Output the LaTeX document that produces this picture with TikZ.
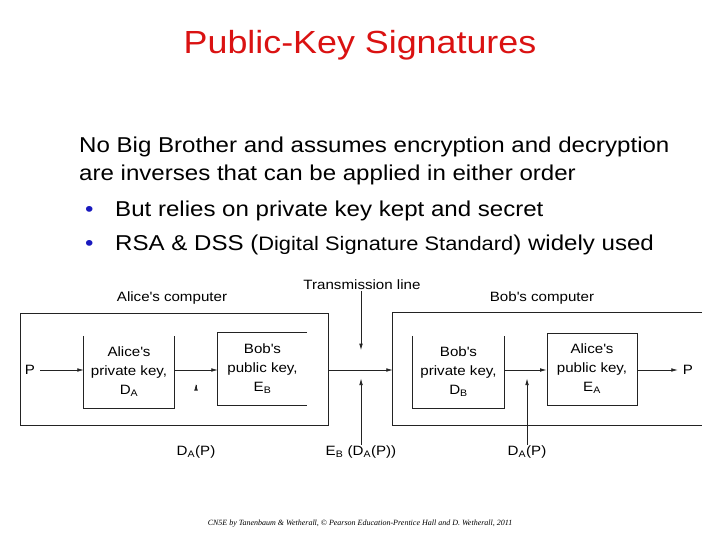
\documentclass[tikz,border=0pt]{standalone}
\usepackage{fontspec}
\setmainfont[FakeStretch=1.12]{Liberation Sans}
\newfontfamily\creditfont{Liberation Serif}
\usepackage{tikz}
\usetikzlibrary{arrows.meta, positioning, calc}
\definecolor{slidered}{RGB}{218,18,18}
\definecolor{bulletblue}{RGB}{25,25,190}
\definecolor{wire}{RGB}{35,35,35}
\newcommand{\ap}{\textquotesingle}

\begin{document}
\begin{tikzpicture}[
    x=1pt, y=-1pt,
    font=\fontsize{13.5}{19}\selectfont,
    judul/.style={text=slidered, font=\fontsize{32}{38}\selectfont},
    baris/.style={anchor=base west, inner sep=0pt, font=\fontsize{21.5}{26}\selectfont},
    poin/.style={baris, text=bulletblue},
    kunci/.style={minimum width=90, minimum height=72, align=center, inner sep=0pt},
    komputer/.style={minimum width=308, minimum height=112, inner sep=0pt},
    ket/.style={inner sep=1pt},
    garis/.style={draw=wire, line width=0.7pt},
    panah/.style={garis, -{Latex[length=6.5pt, width=3.6pt]}}
  ]
    \useasboundingbox (0,0) rectangle (720,540);

    \node[judul] (title) at (360,45) {Public-Key Signatures};
    \node[baris] (l1) at (79,153) {No Big Brother and assumes encryption and decryption};
    \node[baris] (l2) at (79,181) {are inverses that can be applied in either order};
    \node[poin]  (b1) at (85,217) {\textbullet};
    \node[baris] (l3) at (115,217) {But relies on private key kept and secret};
    \node[poin]  (b2) at (85,251) {\textbullet};
    \node[baris] (l4) at (115,251) {RSA \& DSS ({\fontsize{19.5}{24}\selectfont Digital Signature Standard}) widely used};

    \node[komputer, draw=wire, line width=0.7pt] (aliceC) at (174,369) {};
    \node[komputer, minimum width=309] (bobC) at (547.5,369) {};
    \draw[garis] (bobC.north east) -- (bobC.north west) -- (bobC.south west) -- (bobC.south east);
    \node[ket] (aliceLbl) at (172,298) {Alice\ap s computer};
    \node[ket] (bobLbl) at (542,298) {Bob\ap s computer};

    \node[kunci] (apriv) at (129,372) {Alice\ap s\\private key,\\D\textsubscript{A}};
    \node[kunci, minimum width=89] (bpubA) at (262.5,369) {Bob\ap s\\public key,\\E\textsubscript{B}};
    \node[kunci, minimum width=91] (bpriv) at (458.5,372) {Bob\ap s\\private key,\\D\textsubscript{B}};
    \node[kunci, draw=wire, line width=0.7pt] (apub) at (592,369) {Alice\ap s\\public key,\\E\textsubscript{A}};
    \draw[garis] (apriv.north west) -- (apriv.south west) -- (apriv.south east) -- (apriv.north east);
    \draw[garis] (bpubA.north east) -- (bpubA.north west) -- (bpubA.south west) -- (bpubA.south east);
    \draw[garis] (bpriv.north west) -- (bpriv.south west) -- (bpriv.south east) -- (bpriv.north east);

    \node[ket, inner sep=5pt] (pIn) at (30,370) {P};
    \node[ket, inner sep=5pt] (pOut) at (688,370) {P};
    \node[ket] (trans) at (362,285) {Transmission line};
    \node[ket] (daA) at (196,452) {D\textsubscript{A}(P)};
    \node[ket] (ebda) at (361,452) {E\textsubscript{B} (D\textsubscript{A}(P))};
    \node[ket] (daB) at (527,452) {D\textsubscript{A}(P)};
    \coordinate (tipA) at (196,385);

    \draw[panah] (pIn) -- (pIn -| apriv.west);
    \draw[panah] (apriv.east |- pIn) -- (bpubA.west |- pIn);
    \draw[panah] (tipA) -- ++(0,-1);
    \draw[panah] (aliceC.east |- pIn) -- (bobC.west |- pIn);
    \draw[panah] (trans.south -| ebda.north) -- ++(0,59);
    \draw[panah] (ebda.north) -- ++(0,-66);
    \draw[panah] (bpriv.east |- pIn) -- (apub.west |- pIn);
    \draw[panah] (daB.north) -- ++(0,-66);
    \draw[panah] (apub.east |- pIn) -- (pOut);

    \node[font=\creditfont\itshape\fontsize{8}{10}\selectfont] (credit) at (360,524)
      {CN5E by Tanenbaum \& Wetherall, \copyright{} Pearson Education-Prentice Hall and D. Wetherall, 2011};
  \end{tikzpicture}
\end{document}
